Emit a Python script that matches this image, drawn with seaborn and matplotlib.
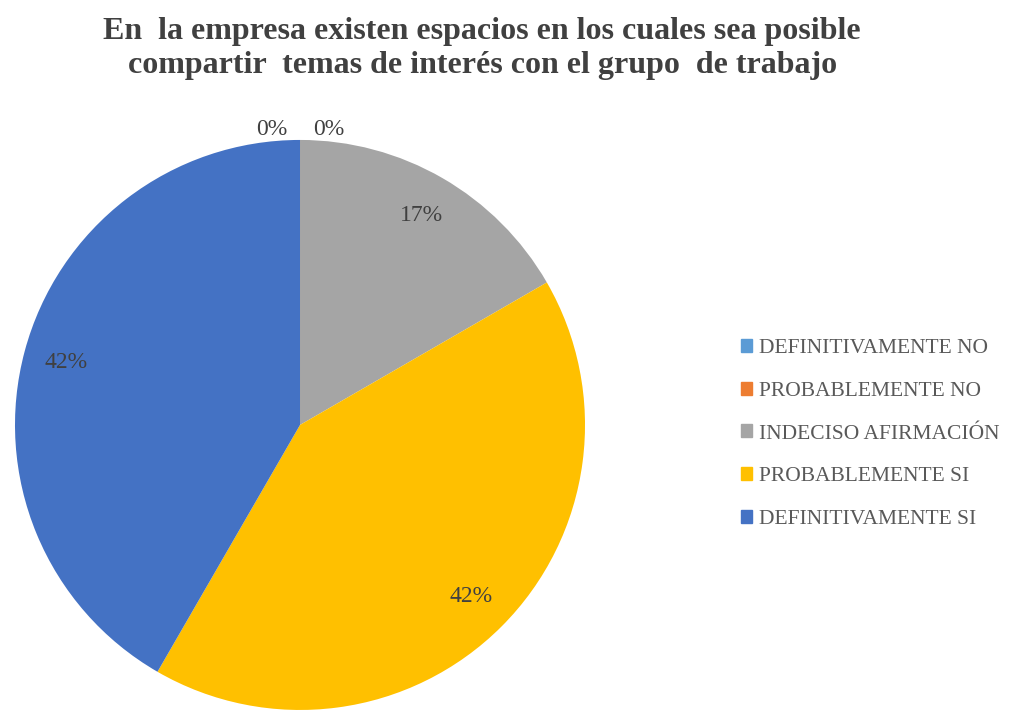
import numpy as np
import matplotlib
matplotlib.use("Agg")
import matplotlib.pyplot as plt
import seaborn as sns

# Datos del gráfico
categorias = ["DEFINITIVAMENTE NO", "PROBABLEMENTE NO", "INDECISO AFIRMACIÓN",
              "PROBABLEMENTE SI", "DEFINITIVAMENTE SI"]
respuestas = [0, 0, 2, 5, 5]
colores = ["#5B9BD5", "#ED7D31", "#A5A5A5", "#FFC000", "#4472C4"]
titulo = ("En  la empresa existen espacios en los cuales sea posible\n"
          "compartir  temas de interés con el grupo  de trabajo")

sns.set_style("white")
plt.rcParams['font.family'] = ['Liberation Serif', 'DejaVu Serif']

fig = plt.figure(figsize=(10.26, 7.21), dpi=100)
ax = fig.add_axes([0.0146, 0.0153, 0.5556, 0.7906])

wedges, textos, pcts = ax.pie(respuestas, colors=colores, startangle=90, counterclock=False,
                              autopct=lambda p: f"{p:.0f}%", pctdistance=0.85, radius=1,
                              wedgeprops=dict(linewidth=0))
ax.set_xlim(-1, 1)
ax.set_ylim(-1, 1)
ax.set_aspect("equal")
ax.axis("off")

for t in pcts:
    t.set_fontsize(17)
    t.set_color("#404040")

# etiquetas de 0% encima del borde superior
pcts[0].set_position((0.10, 1.035))
pcts[1].set_position((-0.10, 1.035))

fig.text(0.47, 0.977, titulo, ha="center", va="top", fontsize=23, fontweight="bold",
         color="#404040", linespacing=1.25)

handles = [plt.Rectangle((0, 0), 1, 1, color=c) for c in colores]
leg = fig.legend(handles, categorias, loc="center left", bbox_to_anchor=(0.703, 0.398),
                 frameon=False, fontsize=15.5, handlelength=0.55, handleheight=0.55,
                 handletextpad=0.3, labelspacing=1.1, labelcolor="#595959")

fig.savefig("out.png", dpi=100)
plt.close(fig)
